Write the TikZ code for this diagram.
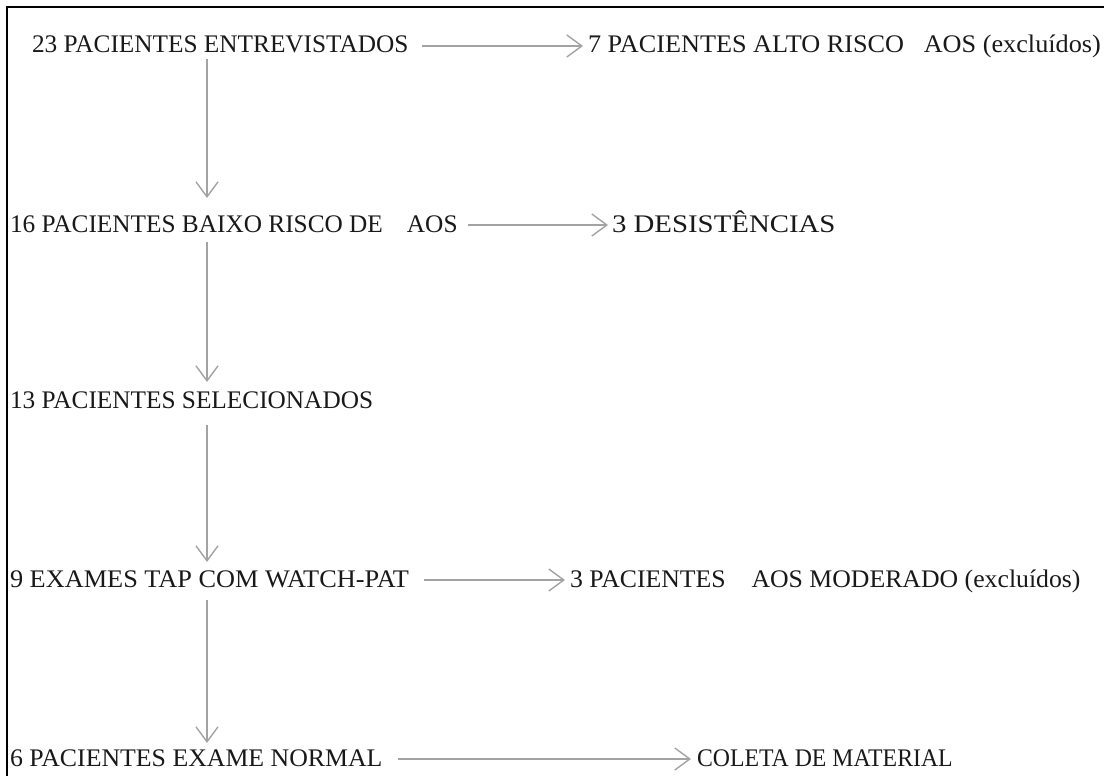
\documentclass[tikz,border=0pt]{standalone}
\usepackage{fontspec}
\setmainfont{Liberation Serif}
\usetikzlibrary{arrows.meta}
\newcommand\hsx[2]{\scalebox{#1}[1]{#2}}
\tikzset{
  lbl/.style={anchor=base west, inner sep=0pt, outer sep=0pt, font=\fontsize{25.3}{30}\selectfont, text=black!90},
  arr/.style={draw=black!36, line width=1.4pt, -{Straight Barb[length=15pt,width=22pt]}},
  frame/.style={draw=black, line width=2.4pt}
}
\begin{document}
\begin{tikzpicture}[x=1pt,y=-1pt]
\useasboundingbox (0,0) rectangle (1106,776);
\draw[frame] (7,776) -- (7,7) -- (1104,7);
\coordinate (vx) at (207,0);
% rows
\node[lbl] (a1) at (32,53) {23 PACIENTES ENTREVISTADOS};
\node[lbl] (b1) at (588,53) {\hsx{1.037}{7 PACIENTES ALTO RISCO\hspace{0.75em}AOS (excluídos)}};
\node[lbl] (a2) at (10,232) {16 PACIENTES BAIXO RISCO DE\hspace{0.95em}AOS};
\node[lbl] (b2) at (612,232) {\hsx{1.14}{3 DESISTÊNCIAS}};
\node[lbl] (a3) at (10,408) {13 PACIENTES SELECIONADOS};
\node[lbl] (a4) at (10,587) {\hsx{1.04}{9 EXAMES TAP COM WATCH-PAT}};
\node[lbl] (b4) at (570,587) {\hsx{1.018}{3 PACIENTES\hspace{1em}AOS MODERADO (excluídos)}};
\node[lbl] (a5) at (10,766) {\hsx{1.02}{6 PACIENTES EXAME NORMAL}};
\node[lbl] (b5) at (697,766) {\hsx{0.94}{COLETA DE MATERIAL}};
% horizontal arrows
\draw[arr, shorten <=13pt, shorten >=5pt] ([yshift=7pt]a1.base east) -- ([yshift=7pt]b1.base west);
\draw[arr, shorten <=10pt, shorten >=4pt] ([yshift=7pt]a2.base east) -- ([yshift=7pt]b2.base west);
\draw[arr, shorten <=15pt, shorten >=5pt] ([yshift=7pt]a4.base east) -- ([yshift=7pt]b4.base west);
\draw[arr, shorten <=15pt, shorten >=6pt] ([yshift=7pt]a5.base east) -- ([yshift=7pt]b5.base west);
% vertical arrows
\draw[arr] ([yshift=-6pt]a1.base -| vx) -- ([yshift=34pt]a2.base -| vx);
\draw[arr] ([yshift=-10pt]a2.base -| vx) -- ([yshift=26pt]a3.base -| vx);
\draw[arr] ([yshift=-17pt]a3.base -| vx) -- ([yshift=25pt]a4.base -| vx);
\draw[arr] ([yshift=-13pt]a4.base -| vx) -- ([yshift=23pt]a5.base -| vx);
\end{tikzpicture}
\end{document}
